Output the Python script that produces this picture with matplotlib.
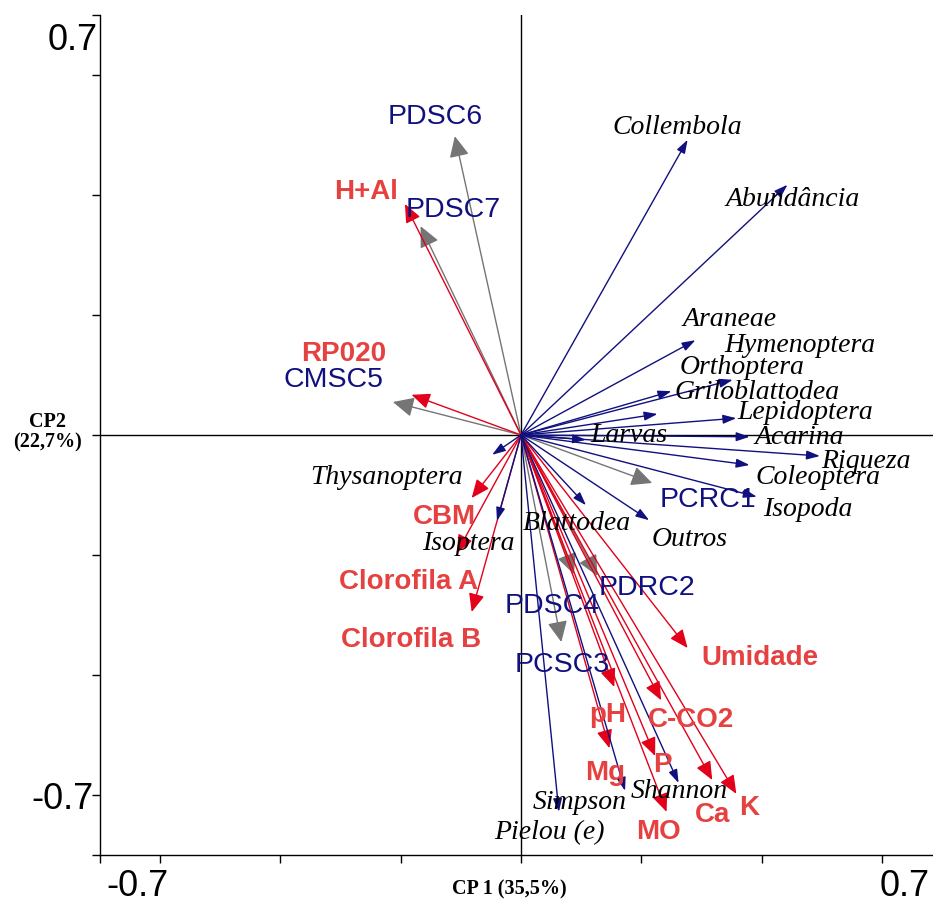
import matplotlib
matplotlib.use("Agg")
import matplotlib.pyplot as plt

# ---------------- data (PCA loadings) ----------------
species = ["Collembola", "Abundância", "Araneae", "Hymenoptera", "Orthoptera",
           "Griloblattodea", "Lepidoptera", "Acarina", "Larvas", "Riqueza",
           "Coleoptera", "Isopoda", "Blattodea", "Outros", "Thysanoptera",
           "Isoptera", "Pielou (e)", "Simpson", "Shannon"]
species_cp1 = [0.277, 0.443, 0.290, 0.352, 0.250, 0.227, 0.358, 0.380, 0.108, 0.497,
               0.380, 0.392, 0.108, 0.213, -0.048, -0.040, 0.063, 0.173, 0.262]
species_cp2 = [0.492, 0.417, 0.158, 0.092, 0.073, 0.035, 0.028, -0.003, -0.008, -0.035,
               -0.050, -0.103, -0.117, -0.142, -0.033, -0.143, -0.628, -0.593, -0.580]

sites = ["PDSC6", "PDSC7", "CMSC5", "PCRC1", "PDRC2", "PDSC4", "PCSC3"]
sites_cp1 = [-0.110, -0.167, -0.213, 0.218, 0.127, 0.088, 0.067]
sites_cp2 = [0.498, 0.348, 0.055, -0.080, -0.235, -0.232, -0.345]

env = ["H+Al", "RP020", "CBM", "Clorofila A", "Clorofila B", "Umidade", "pH",
       "C-CO2", "Mg", "P", "Ca", "K", "MO"]
env_cp1 = [-0.193, -0.182, -0.082, -0.107, -0.082, 0.277, 0.155, 0.233, 0.147, 0.223,
           0.318, 0.358, 0.242]
env_cp2 = [0.385, 0.067, -0.105, -0.197, -0.295, -0.355, -0.420, -0.442, -0.522, -0.535,
           -0.575, -0.598, -0.628]

# label positions (layout)
species_lab = [(0.260, 0.513), (0.452, 0.392), (0.347, 0.192), (0.463, 0.149),
               (0.367, 0.112), (0.393, 0.071), (0.473, 0.037), (0.463, -0.005),
               (0.180, 0.000), (0.573, -0.045), (0.493, -0.070), (0.477, -0.125),
               (0.093, -0.147), (0.280, -0.175), (-0.223, -0.070), (-0.087, -0.180),
               (0.047, -0.662), (0.097, -0.612), (0.263, -0.595)]
sites_lab = [(-0.142, 0.530), (-0.112, 0.375), (-0.312, 0.092), (0.310, -0.108),
             (0.210, -0.255), (0.052, -0.285), (0.068, -0.383)]
env_lab = [(-0.257, 0.405), (-0.295, 0.135), (-0.127, -0.137), (-0.187, -0.245),
           (-0.182, -0.342), (0.397, -0.372), (0.145, -0.467), (0.283, -0.475),
           (0.140, -0.563), (0.235, -0.550), (0.318, -0.633), (0.380, -0.622),
           (0.228, -0.662)]

NAVY = "#10107f"
RED_ARROW = "#e2001a"
RED_TEXT = "#e64141"
GRAY = "#757575"

W, H = 933, 902
fig = plt.figure(figsize=(W / 100, H / 100), dpi=100)
ax = fig.add_axes([100 / W, 47 / H, (W - 100) / W, (855 - 15) / H])
ax.set_xlim(-0.7, (W - 522) / 600)
ax.set_ylim(-0.7, 0.7)

for s in ["top", "right"]:
    ax.spines[s].set_visible(False)
for s in ["left", "bottom"]:
    ax.spines[s].set_linewidth(1.0)
    ax.spines[s].set_color("black")

ax.set_xticks([-0.7, -0.6, -0.4, -0.2, 0, 0.2, 0.4, 0.6])
ax.set_yticks([-0.7, -0.6, -0.4, -0.2, 0, 0.2, 0.4, 0.6, 0.7])
ax.set_xticklabels([])
ax.set_yticklabels([])
ax.tick_params(direction="out", length=6, width=1, color="black")

ax.axhline(0, color="black", lw=1, zorder=1)
ax.axvline(0, color="black", lw=1, zorder=1)


def arrow(x, y, color, hl, hw, lw, ms):
    ax.annotate("", xy=(x, y), xytext=(0, 0),
                arrowprops=dict(arrowstyle=f"-|>,head_length={hl},head_width={hw}",
                                color=color, lw=lw, shrinkA=0, shrinkB=0,
                                mutation_scale=ms), zorder=3)


for x, y in zip(sites_cp1, sites_cp2):
    arrow(x, y, GRAY, 0.8, 0.38, 1.0, 16)
for x, y in zip(env_cp1, env_cp2):
    arrow(x, y, RED_ARROW, 0.75, 0.32, 1.0, 15)
for x, y in zip(species_cp1, species_cp2):
    arrow(x, y, NAVY, 0.8, 0.27, 1.0, 10)

for name, (lx, ly) in zip(species, species_lab):
    ax.text(lx, ly, name, family="Liberation Serif", style="italic", fontsize=20,
            color="black", ha="center", va="center", zorder=4)
for name, (lx, ly) in zip(sites, sites_lab):
    ax.text(lx, ly, name, family="Liberation Sans", fontsize=20.5, color=NAVY,
            ha="center", va="center", zorder=4)
for name, (lx, ly) in zip(env, env_lab):
    ax.text(lx, ly, name, family="Liberation Sans", fontweight="bold", fontsize=20,
            color=RED_TEXT, ha="center", va="center", zorder=4)

# axis end labels
tick_kw = dict(family="Liberation Sans", fontsize=26, color="black",
               ha="center", va="center", clip_on=False)
ax.text(-0.637, -0.752, "-0.7", **tick_kw)
ax.text(0.638, -0.752, "0.7", **tick_kw)
ax.text(-0.745, 0.658, "0.7", **tick_kw)
ax.text(-0.762, -0.608, "-0.7", **tick_kw)

ax.text(-0.02, -0.758, "CP 1 (35,5%)", family="Liberation Serif", fontweight="bold",
        fontsize=14.5, ha="center", va="center", clip_on=False)
ax.text(-0.787, 0.005, "CP2\n(22,7%)", family="Liberation Serif", fontweight="bold",
        fontsize=14.5, ha="center", va="center", clip_on=False, linespacing=1.0)

fig.savefig("out.png", dpi=100)
